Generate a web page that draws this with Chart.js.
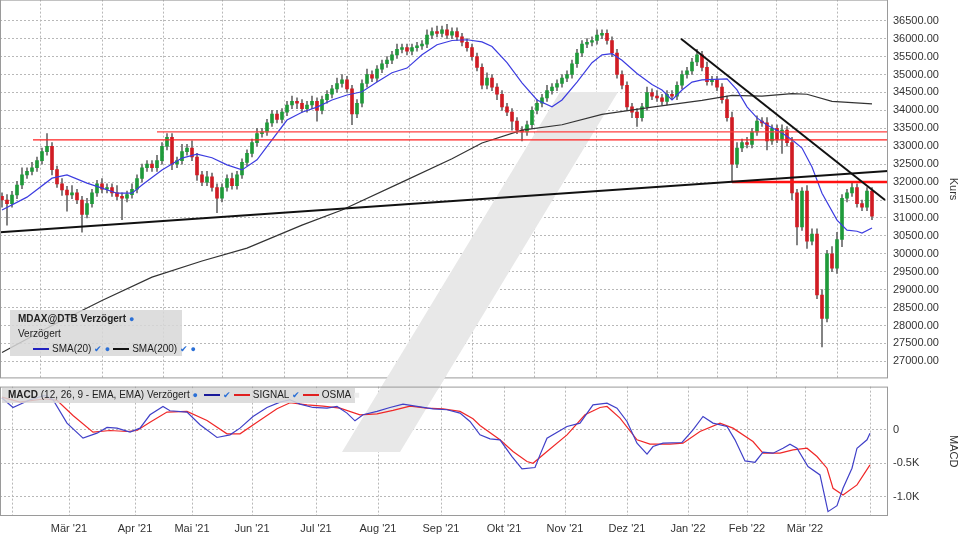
<!DOCTYPE html>
<html><head><meta charset="utf-8">
<script src="https://cdn.jsdelivr.net/npm/chart.js@4.4.1/dist/chart.umd.min.js"></script>
<style>
html,body{margin:0;padding:0;background:#fff;width:960px;height:540px;overflow:hidden;font-family:"Liberation Sans",Arial,sans-serif;position:relative;}
#c1{position:absolute;left:0;top:-12px;}
#c2{position:absolute;left:0;top:375px;}
.lg{position:absolute;background:rgba(215,215,215,0.85);font-size:10px;color:#222;}
.ln{display:inline-block;width:16px;height:0;border-top:2px solid;vertical-align:middle;margin:0 3px;}
.ck{color:#2a6fd6;font-size:9px;}
</style></head><body>
<canvas id="c1" width="960" height="402"></canvas>
<canvas id="c2" width="960" height="165"></canvas>
<div class="lg" style="left:10px;top:310px;width:172px;height:46px;">
 <div style="position:absolute;left:8px;top:3px;font-weight:bold;">MDAX@DTB Verzögert <span class="ck">●</span></div>
 <div style="position:absolute;left:8px;top:18px;">Verzögert</div>
 <div style="position:absolute;left:20px;top:33px;white-space:nowrap;"><span class="ln" style="border-color:#2020c0"></span>SMA(20) <span class="ck">✔ ●</span><span class="ln" style="border-color:#111"></span>SMA(200) <span class="ck">✔ ●</span></div>
</div>
<div class="lg" style="left:2px;top:388px;width:353px;height:15px;">
 <div style="position:absolute;left:6px;top:1px;white-space:nowrap;"><b>MACD</b> (12, 26, 9 - EMA, EMA) Verzögert <span class="ck">●</span> <span class="ln" style="border-color:#1a1a9a"></span><span class="ck">✔</span><span class="ln" style="border-color:#e02020"></span>SIGNAL <span class="ck">✔</span><span class="ln" style="border-color:#e02020"></span>OSMA <span style="color:#eee">■</span></div>
</div>
<script>
// ---- data (price values in hundreds of index points) ----
const closes=[315.0,314.0,316.4,319.2,322.0,323.0,324.0,326.0,328.5,330.0,
323.5,319.5,317.8,316.4,317.0,315.0,311.0,314.0,317.0,319.5,
318.0,318.5,317.0,316.0,315.5,316.5,318.0,321.0,324.0,325.0,
324.0,326.0,330.0,332.5,325.0,326.0,328.5,329.5,327.0,322.0,
320.0,321.5,318.5,315.5,318.5,321.0,319.0,322.0,325.5,328.0,
331.0,333.5,334.0,336.5,339.0,337.5,339.5,341.5,342.5,342.0,
340.5,341.5,342.5,340.0,343.0,344.5,346.0,347.5,348.5,346.0,
339.0,342.0,347.5,350.0,349.0,351.5,353.0,354.0,355.5,357.0,
357.5,356.5,357.5,358.0,358.5,361.0,362.0,361.5,362.5,361.0,
362.0,360.5,359.0,357.5,355.0,352.0,347.0,349.0,346.5,344.5,
341.0,339.5,337.0,334.5,334.0,336.0,340.0,342.0,343.5,345.5,
346.5,347.5,349.0,350.0,353.0,356.0,358.5,359.0,359.5,361.0,
361.5,359.5,356.0,350.0,347.0,341.0,339.5,338.0,341.0,345.0,
344.0,343.5,342.5,344.5,344.0,347.0,350.0,351.0,353.5,355.5,
352.0,348.0,348.5,346.5,343.0,338.0,325.0,329.5,331.0,330.5,
334.0,337.0,336.5,331.5,335.0,332.0,334.5,331.0,317.0,307.5,
317.5,303.5,305.5,288.5,282.0,300.0,296.0,304.0,315.5,317.0,
318.5,314.0,313.0,317.5,310.5];
const firstOpen=316.0;
const wickUp=[1,1.5,1,1,2,1,1.5,1,1,3.5, 1,1,1.5,1,2,1,1,1.5,1,1, 1.5,1,1,2,1,1,1.5,1,1,1, 1,1.5,1,1,1,1,2,1,2,1,
1,1.5,1,1,1,1,1.5,1,1,1, 1,1.5,1,1,1,1,1,1,1.5,1, 1,1,1.5,1,1,1,1,1.5,1.5,1, 1,1,1,1.5,1,1,1,1,1,1.5,
1,1,1,1,1,1.5,1,1.5,1,1.5, 1,1,1,1,1,1,1,1.5,1,1, 1,1,1,1,1,1,1,1,1,1.5, 1,1,1,1,1,1,1,1,1,1.5,
1,1,1,1,1,1,1,1,1,1.5, 1,1.5,1,1,1,1,1,1,1,1.5, 1,1.5,1,1,1,1,1.5,1.5,1,1.5, 1,1.5,1,1.5,1,1,1.5,1,1.5,1,
1,1.5,1.5,1.5,1.5,1,2,2,1,1, 1.5,1,1,1,1];
const wickDn=[2,6,1,1,1,1,1,1,1,1, 1.5,1,1.5,4.5,1,1,5,1,1,1, 1,1,1,1,6,1,1,1,1,1, 1,1,1,1,1.5,1,1,1,1,1.5,
1,1,1,4,1,1,1,1,1,1, 1,1,1,1,1,1,1,1,1,1.5, 1,1,1,3,1,1,1,1,1,1, 3,1,1,1,1,1,1,1,1,1,
1,1,1,1,1,1,1,1,1,1, 1,1,1,1,1,1,1,1,1,1.5, 1,1,2.5,1,2.5,1,1,1,1,1, 1,1,1,1,1,1,1,1,1,1,
1,1,1,1,1,1,1.5,2.5,1,1, 1,1,1,1,1,1,1,1,1,1, 1,1,1,1,1,1,5,1,1,1, 1,1,1,2.5,1,1,4,1,2,5,
1,2,1,1,8,1,1,1.5,2,1, 1,1,1,1,1];
const smaT=[0,5,10,13,17,20,23,26,28,32,36,39,42,45,48,51,54,57,60,63,66,69,72,75,78,81,84,87,90,93,96,98,101,104,107,110,112,115,118,120,122,124,127,130,132,134,136,138,140,145,147,149,151,153,156,158,160,162,164,167,169,171,172,174];
const sma20=[312.2,315.8,321.1,322.0,319.7,318.3,316.9,316.9,319.2,323.4,326.7,327.8,326.8,324.8,323.4,326.2,331.8,337.3,339.5,340.9,342.9,344.3,345.2,347.9,350.5,351.8,355.5,358.3,359.5,359.7,359.1,357.8,353.3,347.7,342.9,341.0,342.9,347.9,353.3,355.5,355.8,354.0,350.3,347.2,345.7,342.9,345.7,347.9,348.5,348.8,345.7,341.0,337.9,335.9,333.7,331.8,329.5,324.2,316.9,309.4,306.6,306.3,305.8,307.2];
const sma200T=[0,10,20,30,40,49,60,68,80,90,96,104,112,120,130,140,146,152,158,161,166,174];
const sma200=[272.5,280.0,287.0,293.5,298.0,301.6,308.0,312.2,320.0,326.5,330.9,334.5,336.0,338.9,340.9,342.8,344.2,344.0,344.7,344.5,342.5,341.8];
const supportLine={t:[-0.4,177.2],v:[306.0,323.1]};
const downLine={t:[135.8,176.6],v:[360.0,315.0]};
const resLow={t:[6.2,177.2],v:[331.75,331.75]};
const resHigh={t:[31,177.2],v:[334.0,334.0]};
const res32={t:[146,177.2],v:[320.0,320.0]};
const priceTicks=[27000,27500,28000,28500,29000,29500,30000,30500,31000,31500,32000,32500,33000,33500,34000,34500,35000,35500,36000,36500];
const macdT=[0,2.2,5.6,8.6,10.2,13,16.2,19,21,23,25.6,27.6,29.6,32.2,33.6,37,39.6,43,45.6,47.6,50.2,53,55.6,57.6,59.6,62.2,65,67,69,70.6,72.2,75,77.6,80.2,83,86.2,89,91.6,93.6,95.6,97.6,99.6,102,104,106.6,107.6,109,113,115.6,118.2,121,123,125,127,129,130.2,132.2,136,138.2,140.2,142.2,145,146.6,148.6,150.6,152.2,154.2,156.2,157.6,159,161.2,163.6,165.2,167,168.2,170,171,173,173.6];
const macd=[468,328,443,508,443,95,-129,-55,30,20,-40,20,219,343,279,259,70,-119,-80,20,194,328,408,443,378,328,318,343,244,129,219,269,328,378,343,308,294,244,119,-80,-139,-154,-403,-587,-567,-378,-129,45,95,368,393,318,119,-204,-368,-254,-204,-194,-5,194,95,45,-154,-468,-488,-339,-353,-279,-219,-279,-552,-677,-1224,-1135,-876,-577,-279,-154,-55,-80];
const sigT=[0,3.6,8.6,11,14.2,18.2,21.6,25,27,29.6,33,37,41,45,47.6,51,55,57.6,61,64.2,67.6,71.6,75,78.2,81.6,85,88.2,91.6,94.2,95.6,99.6,102.2,105,106.2,109,113,116.6,119.6,121,123.6,127,129.6,133.6,136.2,139.6,143.6,146.2,150.2,152.2,155.6,158.2,161,163,165,166.2,168.2,171,173.6];
const signal=[483,408,458,433,209,-40,-15,-30,-15,109,259,269,134,-65,-65,109,308,398,368,348,318,219,234,284,348,318,308,269,159,60,-154,-328,-478,-503,-328,-80,219,328,343,169,-154,-219,-219,-204,-30,95,20,-179,-353,-353,-303,-279,-403,-577,-876,-975,-826,-527,-204];
const macdTicks=[0,-500,-1000];
const monthIdx=[2.0,13.4,26.6,38.0,50.0,62.8,75.2,87.8,100.4,112.6,125.0,137.2,149.0,160.6,173.6];
const monthLabels=["","Mär '21","Apr '21","Mai '21","Jun '21","Jul '21","Aug '21","Sep '21","Okt '21","Nov '21","Dez '21","Jan '22","Feb '22","Mär '22",""];

// ---- build ----
const K=100;
const bodies=[],wicks=[],bodyCol=[];
closes.forEach((c,i)=>{
  const o=i===0?firstOpen:closes[i-1];
  const hi=Math.max(o,c)+wickUp[i], lo=Math.min(o,c)-wickDn[i];
  wicks.push({x:i,y:[lo*K,hi*K]});
  bodies.push({x:i,y:[o*K,(c===o?c+0.3:c)*K]});
  bodyCol.push(c>=o?'#1f9a3a':'#d01c24');
});
const pts=(t,v,m)=>t.map((x,i)=>({x:x,y:v[i]*m}));
const XMIN=-0.4,XMAX=177.2;
const gridCol='#b8b8b8';
Chart.defaults.font.family='"Liberation Sans", Arial, sans-serif';
Chart.defaults.font.size=11;
Chart.defaults.color='#333';
Chart.defaults.animation=false;

function wm(offY){return{id:'wm'+offY,beforeDatasetsDraw(ch){const c=ch.ctx;c.save();c.fillStyle='#e8e8e8';c.beginPath();
 c.moveTo(560,92-offY);c.lineTo(618,92-offY);c.lineTo(400,452-offY);c.lineTo(342,452-offY);c.closePath();c.fill();c.restore();}};}
const frame={id:'frame',afterDraw(ch){const a=ch.chartArea,c=ch.ctx;c.save();c.strokeStyle='#9a9a9a';c.lineWidth=1;c.strokeRect(a.left+0.5,a.top+0.5,a.right-a.left-1,a.bottom-a.top-1);c.restore();}};

const line=(d,col,w,o)=>({type:'line',data:d,borderColor:col,borderWidth:w,pointRadius:0,fill:false,tension:0,order:o});
new Chart(document.getElementById('c1'),{
 type:'bar',
 data:{datasets:[
  {data:wicks,backgroundColor:'#6a6a6a',barThickness:1,grouped:false,order:5},
  {data:bodies,backgroundColor:bodyCol,barThickness:3,grouped:false,order:4},
  line(pts(smaT,sma20,K),'#3c3ce0',1.2,3),
  line(pts(sma200T,sma200,K),'#333',1.2,3),
  line(pts(resLow.t,resLow.v,K),'#ff2020',1.3,2),
  line(pts(resHigh.t,resHigh.v,K),'#ff4040',1.3,2),
  line(pts(res32.t,res32.v,K),'#ff1010',2.5,2),
  line(pts(supportLine.t,supportLine.v,K),'#111',2,1),
  line(pts(downLine.t,downLine.v,K),'#111',2,1)
 ]},
 options:{responsive:false,devicePixelRatio:1,layout:{autoPadding:false,padding:{top:0,bottom:4,left:0,right:0}},
  plugins:{legend:{display:false},tooltip:{enabled:false}},
  scales:{
   x:{type:'linear',min:XMIN,max:XMAX,offset:false,
     afterBuildTicks:s=>{s.ticks=monthIdx.map(v=>({value:v}));},
     afterFit:s=>{s.height=0;},
     ticks:{display:false},grid:{color:gridCol,drawTicks:false},border:{display:false,dash:[2,2]}},
   y:{position:'right',min:26525,max:37090,
     afterBuildTicks:s=>{s.ticks=priceTicks.map(v=>({value:v}));},
     afterFit:s=>{s.width=72;},
     ticks:{callback:v=>v.toFixed(2),padding:5,color:'#333'},
     grid:{color:gridCol,drawTicks:false},border:{display:false,dash:[2,2]},
     title:{display:true,text:'Kurs',padding:0,color:'#333'}}
  }},
 plugins:[wm(-12),frame]
});
new Chart(document.getElementById('c2'),{
 type:'line',
 data:{datasets:[
  line(pts(sigT,signal,1),'#f02828',1.2,2),
  line(pts(macdT,macd,1),'#4040c8',1.2,1)
 ]},
 options:{responsive:false,devicePixelRatio:1,layout:{autoPadding:false,padding:{top:0,bottom:0}},
  plugins:{legend:{display:false},tooltip:{enabled:false}},
  scales:{
   x:{type:'linear',min:XMIN,max:XMAX,
     afterBuildTicks:s=>{s.ticks=monthIdx.map(v=>({value:v}));},
     afterFit:s=>{s.height=24;},
     ticks:{callback:(v,i)=>monthLabels[i],maxRotation:0,autoSkip:false,padding:6,color:'#333'},
     grid:{color:gridCol,drawTicks:false},border:{display:false,dash:[2,2]}},
   y:{position:'right',min:-1289,max:639,
     afterBuildTicks:s=>{s.ticks=macdTicks.map(v=>({value:v}));},
     afterFit:s=>{s.width=72;},
     ticks:{callback:v=>v===0?'0':(v/1000).toFixed(1)+'K',padding:5,color:'#333'},
     grid:{color:gridCol,drawTicks:false},border:{display:false,dash:[2,2]},
     title:{display:true,text:'MACD',padding:0,color:'#333'}}
  }},
 plugins:[wm(375),frame]
});
</script></body></html>
